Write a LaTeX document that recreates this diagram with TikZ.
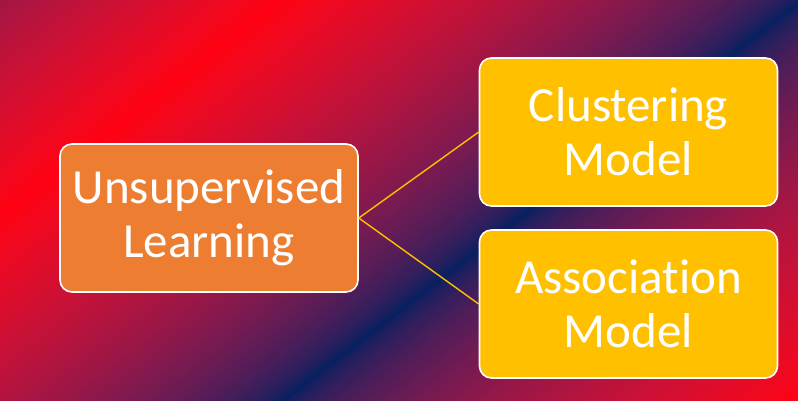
\documentclass[tikz,border=0pt]{standalone}
\usepackage{fontspec}
\setmainfont{Carlito}[Ligatures=NoCommon]
\definecolor{boxorange}{HTML}{ED7D31}
\definecolor{boxgold}{HTML}{FFC000}
\tikzset{
  box/.style={draw=white, line width=1.6pt, rounded corners=12pt,
    minimum width=298pt, minimum height=148pt, text=white, align=center,
    inner sep=0pt, font=\fontsize{49}{54}\selectfont},
  link/.style={draw=boxgold, line width=1.4pt}
}
\begin{document}
\begin{tikzpicture}[x=1pt,y=-1pt]
\useasboundingbox (0,0) rectangle (798,400);
\begin{scope}
\clip (0,0) rectangle (798,400);
\foreach \p in {0,3,...,810}{
  \pgfmathsetmacro\f{\p<170 ? (170-\p)/318 : max(0,1-abs(\p-488)/318)}
  % gamma-1.7 mix of red (FF0012) and navy (002060)
  \pgfmathsetmacro\sr{min(1,pow(max(0.00001,1-\f),1/1.7))}
  \pgfmathsetmacro\sg{min(1,0.125*pow(max(0.00001,\f),1/1.7))}
  \pgfmathsetmacro\sb{min(1,pow(0.011*(1-\f)+0.1896*\f,1/1.7))}
  \definecolor{sc}{rgb}{\sr,\sg,\sb}
  \fill[sc] ({0.611*\p-792},{0.792*\p+611}) -- ({0.611*\p+792},{0.792*\p-611})
    -- ({0.611*(\p+3.6)+792},{0.792*(\p+3.6)-611}) -- ({0.611*(\p+3.6)-792},{0.792*(\p+3.6)+611}) -- cycle;
}
\end{scope}
\node[box, fill=boxorange] (ul) at (209,218) {Unsupervised\\Learning};
\node[box, fill=boxgold] (cm) at (628.5,132) {Clustering\\Model};
\node[box, fill=boxgold] (am) at (628.5,304) {Association\\Model};
\draw[link] (ul.east) -- (cm.west);
\draw[link] (ul.east) -- (am.west);
\end{tikzpicture}
\end{document}
